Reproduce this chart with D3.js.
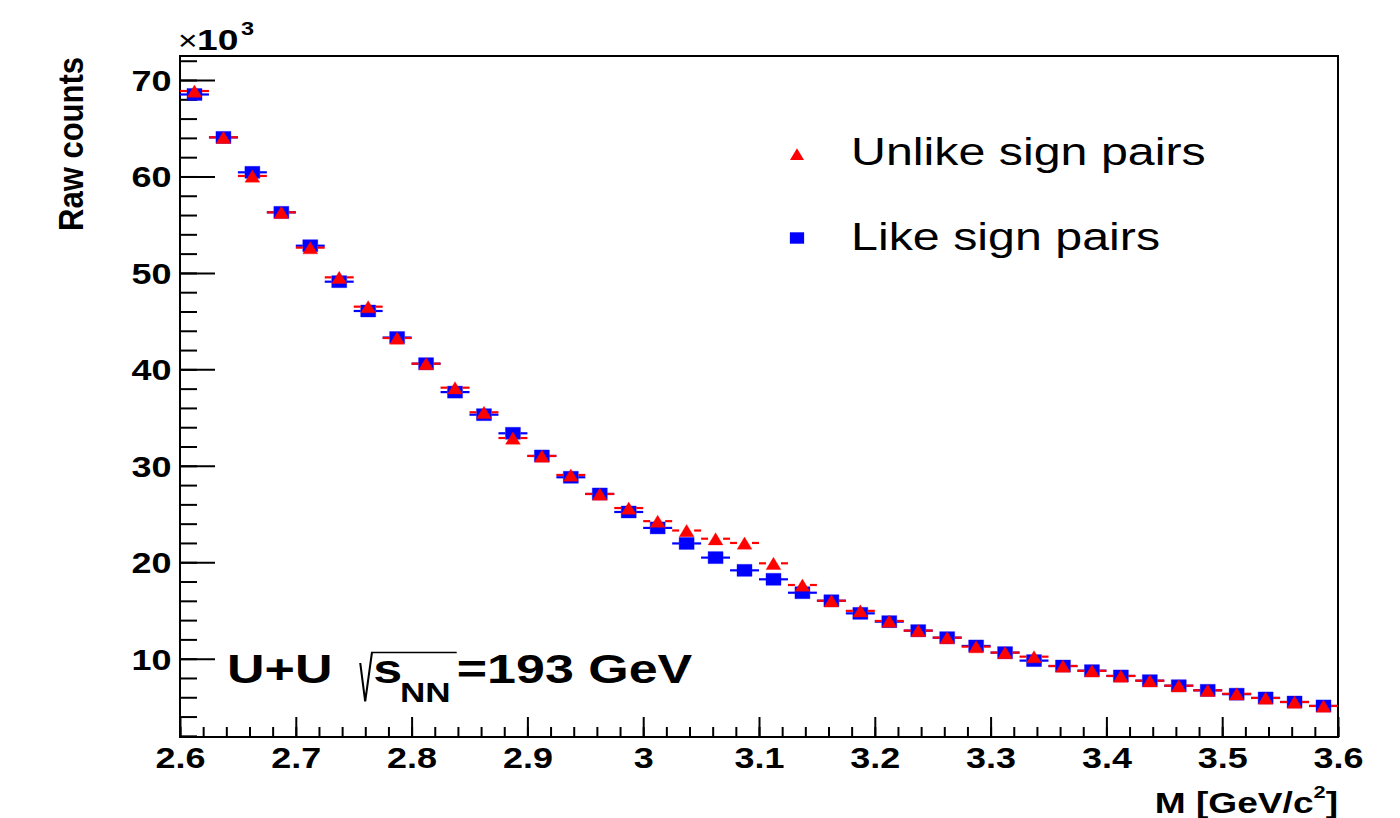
<!DOCTYPE html>
<html>
<head>
<meta charset="utf-8">
<script src="https://cdn.jsdelivr.net/npm/d3@7"></script>
<style>
  html, body { margin: 0; padding: 0; background: #fff; }
  svg { display: block; font-family: "Liberation Sans", Arial, Helvetica, sans-serif; }
</style>
</head>
<body>
<div id="chart"></div>
<script>
// invariant mass bin centres, GeV/c^2
const massBins = [2.6125, 2.6375, 2.6625, 2.6875, 2.7125, 2.7375, 2.7625, 2.7875, 2.8125, 2.8375,
                  2.8625, 2.8875, 2.9125, 2.9375, 2.9625, 2.9875, 3.0125, 3.0375, 3.0625, 3.0875,
                  3.1125, 3.1375, 3.1625, 3.1875, 3.2125, 3.2375, 3.2625, 3.2875, 3.3125, 3.3375,
                  3.3625, 3.3875, 3.4125, 3.4375, 3.4625, 3.4875, 3.5125, 3.5375, 3.5625, 3.5875];
const massErr = 0.0125;

// raw counts in units of 10^3
const unlikeSign = [68.86, 64.06, 60.05, 56.28, 52.62, 49.54, 46.50, 43.25, 40.59, 38.10,
                    35.55, 32.88, 31.02, 29.05, 27.08, 25.62, 24.26, 23.29, 22.44, 22.00,
                    19.89, 17.64, 16.01, 14.96, 13.91, 12.91, 12.18, 11.25, 10.63, 10.21,
                    9.24, 8.74, 8.21, 7.72, 7.20, 6.72, 6.36, 5.93, 5.51, 5.10];
const likeSign = [68.50, 64.05, 60.43, 56.28, 52.82, 49.09, 46.05, 43.30, 40.59, 37.64,
                  35.30, 33.37, 31.02, 28.81, 27.08, 25.21, 23.56, 21.95, 20.48, 19.16,
                  18.23, 16.84, 16.01, 14.70, 13.84, 12.91, 12.18, 11.32, 10.63, 9.80,
                  9.24, 8.76, 8.21, 7.72, 7.20, 6.72, 6.32, 5.93, 5.51, 5.10];

const xMajorTicks = [2.6, 2.7, 2.8, 2.9, 3.0, 3.1, 3.2, 3.3, 3.4, 3.5, 3.6];
const yMajorTicks = [10, 20, 30, 40, 50, 60, 70];
const legendLabels = ["Unlike sign pairs", "Like sign pairs"];

const width = 1400, height = 818;
const frame = {left: 180, right: 1338, top: 56, bottom: 737};
const stretch = 1.24; // the reference is drawn horizontally stretched
const red = "#ff0000", blue = "#0000ff";

const x = d3.scaleLinear().domain([2.6, 3.6]).range([frame.left, frame.right]);
const y = d3.scaleLinear().domain([1.88, 72.49]).range([frame.bottom, frame.top]);

const svg = d3.select("#chart").append("svg")
    .attr("width", width)
    .attr("height", height);

svg.append("rect").attr("width", width).attr("height", height).attr("fill", "#fff");

// ---- axes (ticks inside the frame, ROOT style)
const xMinor = d3.range(0, 51).map(i => 2.6 + i * 0.02).filter(v => v < 3.6001);
const yMinor = d3.range(2, 73, 2);

svg.append("g")
    .attr("transform", `translate(0,${frame.bottom})`)
    .call(d3.axisBottom(x).tickValues(xMinor).tickSize(-10).tickFormat(""))
    .call(g => g.select(".domain").remove())
    .call(g => g.selectAll("line").attr("stroke", "#000").attr("stroke-width", 2));

svg.append("g")
    .attr("transform", `translate(0,${frame.bottom})`)
    .call(d3.axisBottom(x).tickValues(xMajorTicks).tickSize(-20).tickFormat(d => d3.format("")(+d.toFixed(1))))
    .call(g => g.select(".domain").remove())
    .call(g => g.selectAll("line").attr("stroke", "#000").attr("stroke-width", 2))
    .call(g => g.selectAll("text")
        .attr("y", 31).attr("dy", 0)
        .attr("transform", `scale(${stretch},1)`)
        .attr("fill", "#000")
        .style("font-size", "29px").style("font-weight", "bold")
        .style("font-family", "'Liberation Sans', Arial, Helvetica, sans-serif"));

svg.append("g")
    .attr("transform", `translate(${frame.left},0)`)
    .call(d3.axisLeft(y).tickValues(yMinor).tickSize(-17).tickFormat(""))
    .call(g => g.select(".domain").remove())
    .call(g => g.selectAll("line").attr("stroke", "#000").attr("stroke-width", 2));

svg.append("g")
    .attr("transform", `translate(${frame.left},0)`)
    .call(d3.axisLeft(y).tickValues(yMajorTicks).tickSize(-35).tickFormat(d3.format("d")))
    .call(g => g.select(".domain").remove())
    .call(g => g.selectAll("line").attr("stroke", "#000").attr("stroke-width", 2))
    .call(g => g.selectAll("text")
        .attr("x", -8.5 / stretch).attr("dy", "0.36em")
        .attr("transform", `scale(${stretch},1)`)
        .attr("fill", "#000")
        .style("font-size", "29px").style("font-weight", "bold")
        .style("font-family", "'Liberation Sans', Arial, Helvetica, sans-serif"));

// frame
svg.append("rect")
    .attr("x", frame.left).attr("y", frame.top)
    .attr("width", frame.right - frame.left).attr("height", frame.bottom - frame.top)
    .attr("fill", "none").attr("stroke", "#000").attr("stroke-width", 2);

// ---- exponent label
const expo = svg.append("g").attr("transform", `translate(178,50) scale(${stretch},1)`);
expo.append("text").attr("x", 0).attr("y", 0).style("font-size", "27px").text("\u00d7");
expo.append("text").attr("x", 19 / stretch).attr("y", 0)
    .style("font-size", "30px").style("font-weight", "bold").text("10");
expo.append("text").attr("x", 63 / stretch).attr("y", -15)
    .style("font-size", "19px").style("font-weight", "bold").text("3");

// ---- axis titles
svg.append("g").attr("transform", `translate(1338,813) scale(1.28,1)`)
  .append("text")
    .attr("text-anchor", "end")
    .style("font-size", "29px").style("font-weight", "bold")
    .call(t => {
        t.append("tspan").text("M [GeV/c");
        t.append("tspan").attr("dy", -15).style("font-size", "17px").text("2");
        t.append("tspan").attr("dy", 15).text("]");
    });

svg.append("g").attr("transform", `translate(83,57) scale(1.16,1) rotate(-90)`)
  .append("text")
    .attr("text-anchor", "end")
    .style("font-size", "31px").style("font-weight", "bold")
    .text("Raw counts");

// ---- data: like sign (blue squares) then unlike sign (red triangles)
const half = 7.5;
function drawSeries(values, color, shape) {
    const g = svg.append("g");
    const pts = massBins.map((m, i) => ({m, v: values[i]}));
    g.selectAll("line.l").data(pts).enter().append("line")
        .attr("x1", d => x(d.m - massErr)).attr("x2", d => x(d.m) - half)
        .attr("y1", d => y(d.v)).attr("y2", d => y(d.v))
        .attr("stroke", color).attr("stroke-width", 2.2);
    g.selectAll("line.r").data(pts).enter().append("line")
        .attr("x1", d => x(d.m) + half).attr("x2", d => Math.min(x(d.m + massErr), frame.right))
        .attr("y1", d => y(d.v)).attr("y2", d => y(d.v))
        .attr("stroke", color).attr("stroke-width", 2.2);
    g.selectAll("path.m").data(pts).enter().append("path")
        .attr("transform", d => `translate(${x(d.m)},${y(d.v)})`)
        .attr("d", shape)
        .attr("fill", color)
        .attr("stroke", color).attr("stroke-opacity", 0.35).attr("stroke-width", 1);
}
const squarePath = "M-7.5,-6H7.5V6H-7.5Z";
const trianglePath = "M0,-6L-7.4,6.2H7.4Z";

drawSeries(likeSign, blue, squarePath);
drawSeries(unlikeSign, red, trianglePath);

// ---- legend
const legend = svg.append("g");
const legendRows = [
    {label: legendLabels[0], color: red, shape: trianglePath, cy: 154, base: 165},
    {label: legendLabels[1], color: blue, shape: squarePath, cy: 238, base: 250}
];
legendRows.forEach(r => {
    legend.append("path")
        .attr("transform", `translate(797,${r.cy}) scale(0.95)`)
        .attr("d", r.shape).attr("fill", r.color);
    legend.append("g").attr("transform", `translate(851,${r.base}) scale(${stretch},1)`)
      .append("text").style("font-size", "39px").text(r.label);
});

// ---- collision system annotation
const annStretch = 1.3;
const ann = svg.append("g").attr("transform", `translate(227,683) scale(${annStretch},1)`);
ann.append("text").style("font-size", "40px").style("font-weight", "bold").text("U+U");
ann.append("path")
    .attr("d", "M102.5,-20L106.3,18.5L111.5,-30.5H176.7")
    .attr("fill", "none").attr("stroke", "#000").attr("stroke-width", 1.6);
ann.append("text").attr("x", 112.5).style("font-size", "40px").style("font-weight", "bold").text("s");
ann.append("text").attr("x", 133).attr("y", 18.5).style("font-size", "27px").style("font-weight", "bold").text("NN");
ann.append("text").attr("x", 176.7).style("font-size", "40px").style("font-weight", "bold").text("=193 GeV");
</script>
</body>
</html>
